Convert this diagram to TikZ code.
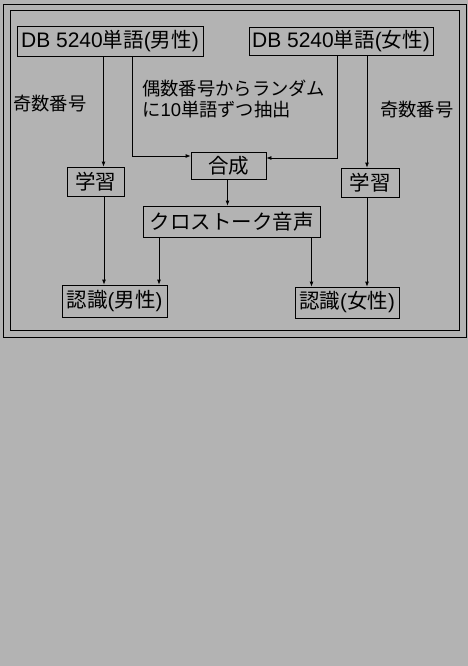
\documentclass[tikz,border=0pt]{standalone}
\usepackage{fontspec}
\setmainfont{Noto Sans CJK JP}
\newfontfamily\latf{Liberation Sans}
\newcommand\latxt[2]{{\latf\fontsize{#1}{#1}\selectfont #2}}
\usetikzlibrary{arrows.meta}
\definecolor{bggray}{RGB}{179,179,179}
\begin{document}
\begin{tikzpicture}[x=1pt,y=-1pt,
  box/.style={draw, line width=0.8pt, inner sep=0pt, font=\fontsize{20.5}{22}\selectfont},
  lbl/.style={inner sep=0pt, font=\fontsize{18.3}{20.5}\selectfont, align=left, anchor=west},
  arr/.style={line width=0.8pt, -{Latex[length=5pt,width=4pt]}},
  frame/.style={line width=0.8pt}]
\fill[bggray] (0,0) rectangle (468,666);
\useasboundingbox (0,0) rectangle (468,666);
\draw[frame] (3,4) rectangle (466,337);
\draw[frame] (10,10) rectangle (459,330);
% boxes
\node[box, minimum width=186pt, minimum height=30pt] (dbm) at (110,41) {\latxt{21}{DB 5240}単語\latxt{21}{(}男性\latxt{21}{)}};
\node[box, minimum width=184pt, minimum height=28pt] (dbf) at (341,41) {\latxt{21}{DB 5240}単語\latxt{21}{(}女性\latxt{21}{)}};
\node[box, minimum width=75pt, minimum height=27pt] (gosei) at (228.5,165.5) {合成};
\node[box, minimum width=57pt, minimum height=29pt] (gakl) at (95.5,181.5) {学習};
\node[box, minimum width=58pt, minimum height=29pt] (gakr) at (370,182.5) {学習};
\node[box, minimum width=177pt, minimum height=31pt] (cross) at (231.5,221.5) {クロストーク音声};
\node[box, minimum width=105pt, minimum height=32pt] (ninm) at (114.5,301) {認識\latxt{20.5}{(}男性\latxt{20.5}{)}};
\node[box, minimum width=104pt, minimum height=31pt] (ninf) at (347,302.5) {認識\latxt{20.5}{(}女性\latxt{20.5}{)}};
% labels
\node[lbl] (oddl) at (13,104) {奇数番号};
\node[lbl] (even) at (142,99) {偶数番号からランダム\\に\latxt{18.5}{10}単語ずつ抽出};
\node[lbl] (oddr) at (380,110) {奇数番号};
% x positions
\coordinate (xa) at (103.5,0);
\coordinate (xb) at (132,0);
\coordinate (xc) at (337,0);
\coordinate (xd) at (367,0);
\coordinate (xe) at (227.5,0);
\coordinate (xf) at (104,0);
\coordinate (xg) at (159,0);
\coordinate (xh) at (311.5,0);
\coordinate (xi) at (367,0);
\coordinate (ya) at (0,156);
\coordinate (yb) at (0,158);
% connectors
\draw[arr] (xa |- dbm.south) -- (xa |- gakl.north);
\draw[arr] (xb |- dbm.south) -- (xb |- ya) -- (gosei.west |- ya);
\draw[arr] (xc |- dbf.south) -- (xc |- yb) -- (gosei.east |- yb);
\draw[arr] (xd |- dbf.south) -- (xd |- gakr.north);
\draw[arr] (xe |- gosei.south) -- (xe |- cross.north);
\draw[arr] (xf |- gakl.south) -- (xf |- ninm.north);
\draw[arr] (xg |- cross.south) -- (xg |- ninm.north);
\draw[arr] (xh |- cross.south) -- (xh |- ninf.north);
\draw[arr] (xi |- gakr.south) -- (xi |- ninf.north);
\end{tikzpicture}
\end{document}
